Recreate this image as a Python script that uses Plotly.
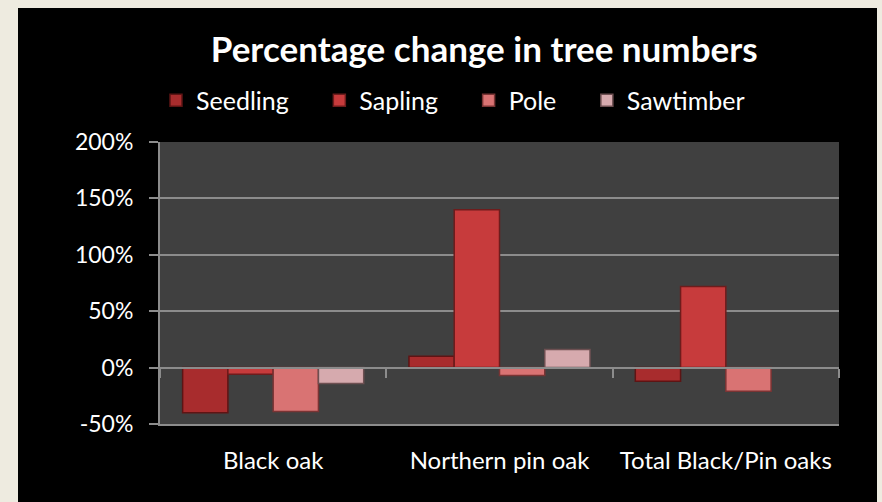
import plotly.graph_objects as go

# Tree-number change by stand type and size class
categories = ["Black oak", "Northern pin oak", "Total Black/Pin oaks"]
seedling = [-40, 10, -12]
sapling = [-6, 140, 72]
pole = [-39, -7, -21]
sawtimber = [-14, 16, None]

y_tickvals = [-50, 0, 50, 100, 150, 200]
y_ticktext = ["-50%", "0%", "50%", "100%", "150%", "200%"]

series = [
    ("Seedling", seedling, "#A82C2D", "#5E1414"),
    ("Sapling", sapling, "#C73B3C", "#6E1C1C"),
    ("Pole", pole, "#D97373", "#7A3434"),
    ("Sawtimber", sawtimber, "#D6AAAE", "#6E5052"),
]

FONT = "Lato"
GRID = "#8C8C8C"
PAD = "\u00a0" * 4  # extra room between legend entries

fig = go.Figure()
for i, (name, vals, fill, edge) in enumerate(series):
    label = name if i == len(series) - 1 else name + PAD
    fig.add_trace(go.Bar(
        name=label, x=categories, y=vals,
        marker=dict(color=fill, line=dict(color=edge, width=1.5)),
    ))

# helper trace for the axis that crosses at zero
fig.add_trace(go.Scatter(
    x=categories, y=[0, 0, 0], xaxis="x2", mode="markers",
    marker=dict(opacity=0), showlegend=False, hoverinfo="skip",
))

fig.update_layout(
    width=882, height=502,
    margin=dict(l=160, r=43, t=142, b=78, autoexpand=False),
    paper_bgcolor="#EEEBE0",
    plot_bgcolor="#404040",
    barmode="group",
    bargap=0.2,
    bargroupgap=0,
    font=dict(family=FONT, color="white", size=22),
    title=dict(
        text="<b>Percentage change in tree numbers</b>",
        font=dict(family=FONT, size=35, color="white"),
        x=0.549, xref="container", xanchor="center",
        y=0.90, yref="container", yanchor="middle",
    ),
    legend=dict(
        orientation="h", x=(172 - 16) / 882, xref="container", xanchor="left",
        y=0.80, yref="container", yanchor="middle",
        font=dict(family=FONT, size=25, color="white"),
        bgcolor="rgba(0,0,0,0)",
    ),
    showlegend=True,
    xaxis=dict(
        type="category", categoryorder="array", categoryarray=categories,
        showline=True, linecolor=GRID, linewidth=2,
        ticks="", showgrid=False, zeroline=False,
        tickfont=dict(family=FONT, size=24, color="white"),
        ticklabelstandoff=14,
    ),
    xaxis2=dict(
        type="category", categoryorder="array", categoryarray=categories,
        overlaying="x", anchor="free", position=0.2, matches="x",
        showline=True, linecolor=GRID, linewidth=2,
        tickson="boundaries", ticks="outside", ticklen=9, tickwidth=2,
        tickcolor=GRID, showticklabels=False, showgrid=False,
    ),
    yaxis=dict(
        range=[-50, 200], tickvals=y_tickvals, ticktext=y_ticktext,
        showgrid=True, gridcolor=GRID, gridwidth=2,
        zeroline=False,
        showline=True, linecolor=GRID, linewidth=2,
        ticks="outside", ticklen=9, tickwidth=2, tickcolor=GRID,
        tickfont=dict(family=FONT, size=23, color="white"),
        ticklabelstandoff=11,
    ),
    shapes=[
        dict(
            type="rect", xref="paper", yref="paper", layer="below",
            x0=(18 - 160) / 679, x1=(877 - 160) / 679,
            y0=-0.35, y1=(424 - 8) / 282,
            fillcolor="black", line=dict(width=0),
        ),
        dict(
            type="rect", xref="paper", yref="paper", layer="below",
            x0=0, x1=1, y0=0, y1=1,
            fillcolor="#404040", line=dict(width=0),
        ),
    ],
)

fig.write_html("out.html")
